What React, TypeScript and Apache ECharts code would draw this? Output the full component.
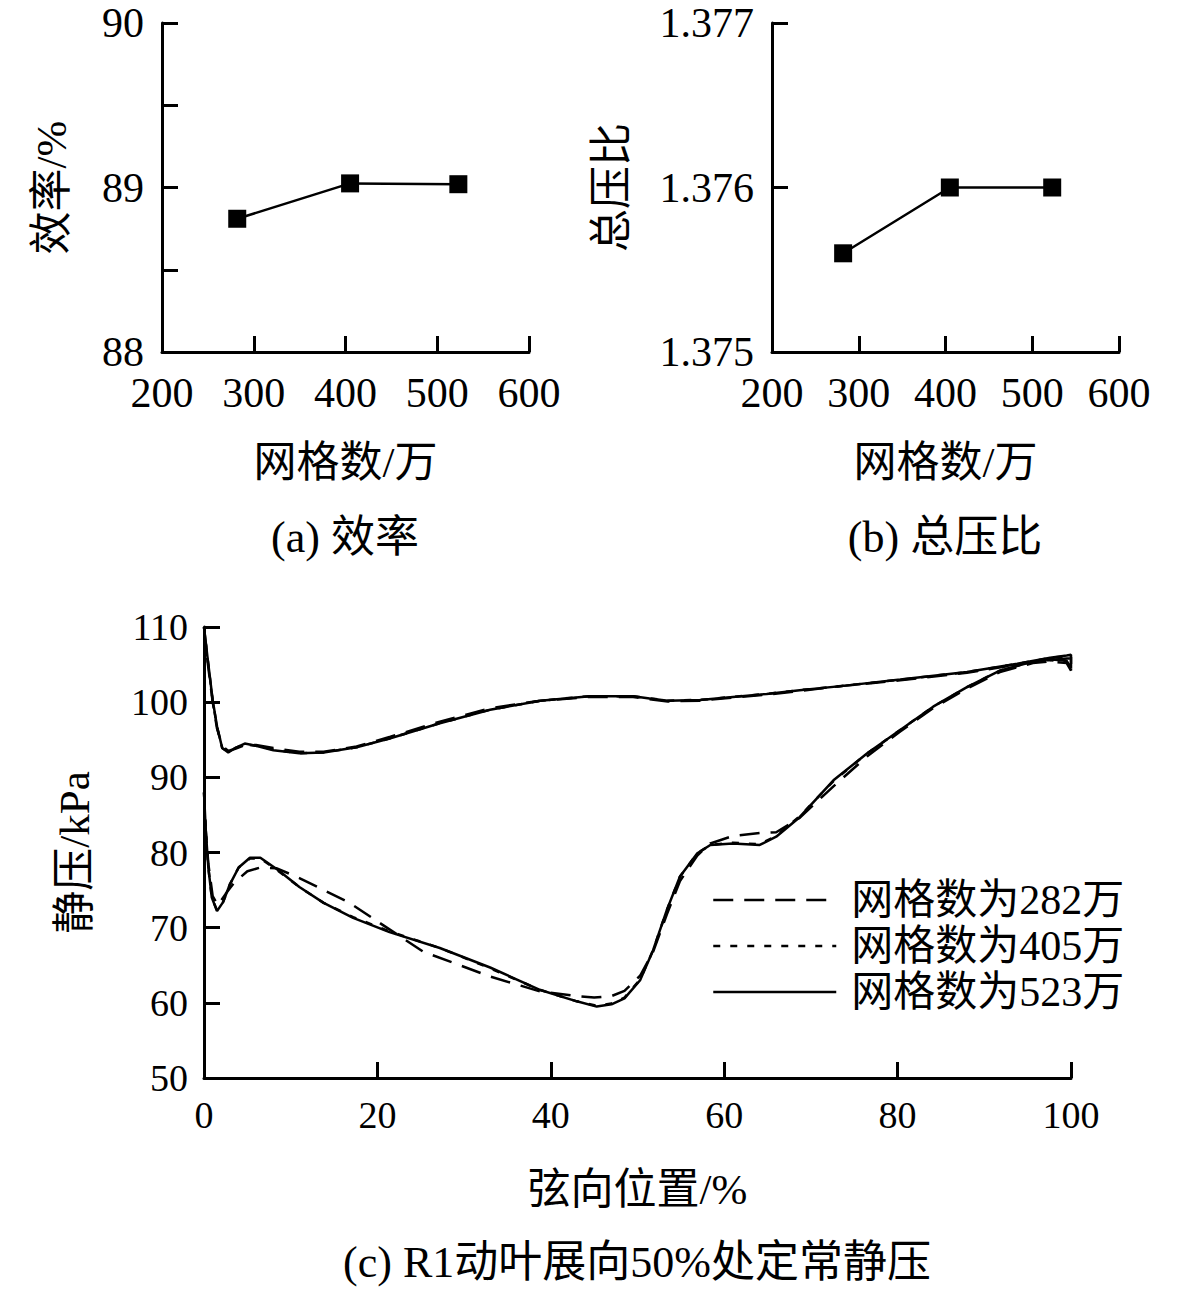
import React, { useEffect, useRef } from "react";
import * as echarts from "echarts";

// ---------- data ----------
const meshCounts = [282, 405, 523];
const efficiency = [88.81, 89.025, 89.02];
const pressureRatio = [1.3756, 1.376, 1.376];

const xTicksTop = [200, 300, 400, 500, 600];

const seriesNames = ["网格数为282万", "网格数为405万", "网格数为523万"];

// chordwise position (%) , static pressure (kPa) — upper surface 0→100
const upper282: [number, number][] = [
  [0, 110], [0.4, 105.5], [1, 100], [1.5, 96.5], [2.1, 94.2], [2.8, 93.5], [3.6, 93.8], [4.7, 94.3],
  [6, 94.3], [8, 93.9], [11, 93.4], [13.8, 93.4], [17.6, 94.1], [21.5, 95.4], [27.2, 97.4], [33, 99.2],
  [38.8, 100.2], [44.5, 100.7], [49.5, 100.7], [51.4, 100.4], [53.5, 100.1], [57.2, 100.2], [61, 100.6],
  [64.9, 101], [68.7, 101.5], [74, 102.2], [80.3, 102.9], [88, 103.9], [93.8, 105], [97.6, 105.6],
  [99.5, 105.8], [100, 105.8], [100, 104.2],
];
// lower surface 100→0
const lower282: [number, number][] = [
  [99.5, 105.2], [97.5, 105.4], [95.6, 105.2], [91.8, 104], [88, 101.8], [84.1, 99.2], [80.3, 96.1],
  [76.5, 92.8], [72.6, 88.8], [68.7, 84.6], [66, 82.7], [64.1, 82.6], [61, 82.2], [58.4, 81.2],
  [56.9, 79.6], [54.9, 76.2], [53.4, 71.8], [51.8, 66.8], [50.3, 63.6], [48.5, 61.6], [47, 60.9],
  [45, 60.7], [43, 60.9], [38.8, 61.5], [33, 63.5], [25.3, 66.8], [20.3, 70.6], [16.8, 73.3],
  [11, 76.6], [8.4, 77.9], [6.5, 78], [5, 77.5], [3.5, 76], [2.5, 74.5], [1.6, 73], [1, 74.2],
  [0.5, 78.5], [0.2, 83], [0, 88],
];

const upper405: [number, number][] = [
  [0, 110], [0.4, 106], [1, 100.2], [1.5, 96.7], [2.1, 93.9], [2.8, 93.4], [3.6, 93.9], [4.7, 94.4],
  [6, 94.2], [8, 93.7], [11, 93.2], [13.8, 93.3], [17.6, 94], [21.5, 95.2], [27.2, 97.2], [33, 99],
  [38.8, 100.2], [44.5, 100.8], [49.5, 100.8], [51.4, 100.5], [53.5, 100.2], [57.2, 100.3], [61, 100.7],
  [64.9, 101.1], [68.7, 101.6], [74, 102.2], [80.3, 103], [88, 104], [93.8, 105.1], [97.6, 105.9],
  [99.5, 106.1], [100, 106.2], [100, 104.4],
];
const lower405: [number, number][] = [
  [99.5, 105.4], [97.5, 105.6], [95.6, 105.4], [91.8, 104.2], [88, 102], [84.1, 99.4], [80.3, 96.3],
  [76.5, 93.2], [72.6, 89.5], [68.7, 84.8], [66, 82.2], [64.1, 81.1], [61, 81.3], [58.4, 81],
  [56.9, 79.9], [54.9, 76.8], [53.4, 72.4], [51.8, 67], [50.3, 63.1], [48.5, 60.7], [47, 59.9],
  [45.3, 59.6], [43, 60.2], [38.8, 61.7], [33, 64.6], [27.2, 67.3], [21.4, 69.5], [17.2, 71.4],
  [13.8, 73.3], [11, 75.4], [8.5, 77.6], [6.5, 79.2], [5.3, 79.2], [4, 78], [3, 75.8], [2.2, 73.4],
  [1.5, 72.3], [0.9, 74], [0.5, 78], [0.2, 83], [0, 88],
];

const upper523: [number, number][] = [
  [0, 110], [0.4, 106], [1, 100.3], [1.5, 96.8], [2.1, 93.9], [2.8, 93.3], [3.6, 93.9], [4.7, 94.5],
  [6, 94.2], [8, 93.6], [11, 93.2], [13.8, 93.3], [17.6, 94], [21.5, 95.2], [27.2, 97.2], [33, 99],
  [38.8, 100.2], [44.5, 100.8], [49.5, 100.8], [51.4, 100.5], [53.5, 100.2], [57.2, 100.3], [61, 100.7],
  [64.9, 101.1], [68.7, 101.6], [74, 102.2], [80.3, 103], [88, 104], [93.8, 105.1], [97.6, 105.9],
  [99.5, 106.2], [100, 106.3], [100, 104.5],
];
const lower523: [number, number][] = [
  [99.5, 105.5], [97.5, 105.7], [95.6, 105.4], [91.8, 104.2], [88, 102], [84.1, 99.4], [80.3, 96.3],
  [76.5, 93.2], [72.6, 89.6], [68.7, 84.7], [66, 82.1], [64.1, 81], [61, 81.2], [58.4, 81],
  [56.9, 79.9], [54.9, 76.8], [53.4, 72.4], [51.8, 67], [50.3, 63], [48.5, 60.6], [47, 59.8],
  [45.3, 59.5], [43, 60.2], [38.8, 61.7], [33, 64.7], [27.2, 67.3], [21.4, 69.4], [17.2, 71.3],
  [13.8, 73.3], [11, 75.4], [8.5, 77.7], [6.5, 79.3], [5.3, 79.3], [4, 78], [3, 75.8], [2.2, 73.4],
  [1.5, 72.2], [0.9, 74], [0.5, 78], [0.2, 83], [0, 88],
];

// ---------- styles ----------
const FONT = "'Liberation Serif', 'Noto Sans CJK SC', serif";
const BLACK = "#000";

const axisCommon = (labelSize: number, margin: number) => ({
  axisLine: { show: true, onZero: false, lineStyle: { color: BLACK, width: 3 } },
  axisTick: { show: true, inside: true, length: 16, lineStyle: { color: BLACK, width: 3 } },
  splitLine: { show: false },
  axisLabel: { color: BLACK, fontSize: labelSize, fontFamily: FONT, margin },
  nameTextStyle: { color: BLACK, fontSize: 43, fontFamily: FONT },
  nameLocation: "middle" as const,
});

export default function App() {
  const ref = useRef<HTMLDivElement>(null);

  useEffect(() => {
    if (!ref.current) return;
    const chart = echarts.init(ref.current, undefined, { renderer: "svg" });

    const option: any = {
      animation: false,
      backgroundColor: "#fff",
      grid: [
        { left: 162, top: 23, width: 367, height: 329 },
        { left: 772, top: 23, width: 347, height: 329 },
        { left: 204, top: 627, width: 867, height: 451 },
      ],
      xAxis: [
        {
          ...axisCommon(42, 20),
          gridIndex: 0,
          type: "value",
          min: xTicksTop[0],
          max: xTicksTop[xTicksTop.length - 1],
          interval: 100,
          name: "网格数/万",
          nameGap: 89,
        },
        {
          ...axisCommon(42, 20),
          gridIndex: 1,
          type: "value",
          min: xTicksTop[0],
          max: xTicksTop[xTicksTop.length - 1],
          interval: 100,
          name: "网格数/万",
          nameGap: 89,
        },
        {
          ...axisCommon(38, 18),
          gridIndex: 2,
          type: "value",
          min: 0,
          max: 100,
          interval: 20,
          name: "弦向位置/%",
          nameGap: 90,
        },
      ],
      yAxis: [
        {
          ...axisCommon(42, 18),
          gridIndex: 0,
          type: "value",
          min: 88,
          max: 90,
          interval: 0.5,
          axisLabel: {
            color: BLACK,
            fontSize: 42,
            lineHeight: 32,
            fontFamily: FONT,
            margin: 18,
            formatter: (v: number) => (Math.abs(v - Math.round(v)) < 1e-6 ? String(Math.round(v)) : ""),
          },
          name: "效率/%",
          nameGap: 89,
        },
        {
          ...axisCommon(42, 18),
          gridIndex: 1,
          type: "value",
          min: 1.375,
          max: 1.377,
          interval: 0.001,
          axisLabel: {
            color: BLACK,
            fontSize: 42,
            lineHeight: 32,
            fontFamily: FONT,
            margin: 18,
            formatter: (v: number) => v.toFixed(3),
          },
          name: "总压比",
          nameGap: 139,
        },
        {
          ...axisCommon(38, 16),
          gridIndex: 2,
          type: "value",
          min: 50,
          max: 110,
          interval: 10,
          name: "静压/kPa",
          nameGap: 108,
        },
      ],
      legend: {
        data: seriesNames,
        orient: "vertical",
        left: 707,
        top: 872,
        itemWidth: 123,
        itemHeight: 20,
        itemGap: 0,
        selectedMode: false,
        itemStyle: { opacity: 0, borderWidth: 0 },
        lineStyle: { width: 2.5 },
        textStyle: {
          color: BLACK,
          fontSize: 42,
          lineHeight: 46,
          fontFamily: FONT,
          padding: [0, 0, 0, 10],
        },
      },
      series: [
        {
          type: "line",
          xAxisIndex: 0,
          yAxisIndex: 0,
          data: meshCounts.map((m, i) => [m, efficiency[i]]),
          symbol: "rect",
          symbolSize: 18,
          itemStyle: { color: BLACK },
          lineStyle: { color: BLACK, width: 2.5 },
        },
        {
          type: "line",
          xAxisIndex: 1,
          yAxisIndex: 1,
          data: meshCounts.map((m, i) => [m, pressureRatio[i]]),
          symbol: "rect",
          symbolSize: 18,
          itemStyle: { color: BLACK },
          lineStyle: { color: BLACK, width: 2.5 },
        },
        {
          name: seriesNames[0],
          type: "line",
          xAxisIndex: 2,
          yAxisIndex: 2,
          data: [...upper282, ...lower282],
          symbol: "none",
          itemStyle: { color: BLACK },
          lineStyle: { color: BLACK, width: 2.5, type: [20, 11] },
        },
        {
          name: seriesNames[1],
          type: "line",
          xAxisIndex: 2,
          yAxisIndex: 2,
          data: [...upper405, ...lower405],
          symbol: "none",
          itemStyle: { color: BLACK },
          lineStyle: { color: BLACK, width: 2.5, type: [7, 10] },
        },
        {
          name: seriesNames[2],
          type: "line",
          xAxisIndex: 2,
          yAxisIndex: 2,
          data: [...upper523, ...lower523],
          symbol: "none",
          itemStyle: { color: BLACK },
          lineStyle: { color: BLACK, width: 2.5 },
        },
      ],
      graphic: [
        {
          type: "text",
          x: 345,
          y: 537,
          style: { text: "(a) 效率", fill: BLACK, fontSize: 44, fontFamily: FONT, align: "center", verticalAlign: "middle" },
        },
        {
          type: "text",
          x: 945,
          y: 537,
          style: { text: "(b) 总压比", fill: BLACK, fontSize: 44, fontFamily: FONT, align: "center", verticalAlign: "middle" },
        },
        {
          type: "text",
          x: 637,
          y: 1262,
          style: {
            text: "(c) R1动叶展向50%处定常静压",
            fill: BLACK,
            fontSize: 44,
            fontFamily: FONT,
            align: "center",
            verticalAlign: "middle",
          },
        },
      ],
    };

    chart.setOption(option);
    return () => chart.dispose();
  }, []);

  return (
    <div
      ref={ref}
      style={{ position: "absolute", left: 0, top: 0, width: 1181, height: 1292, background: "#fff" }}
    />
  );
}
